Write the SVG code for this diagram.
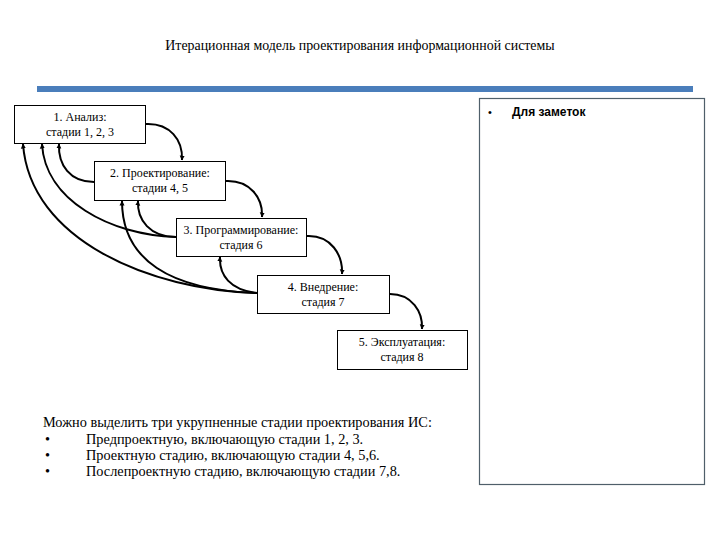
<svg xmlns="http://www.w3.org/2000/svg" width="720" height="540" viewBox="0 0 720 540">
<defs>
<marker id="ah" viewBox="0 0 10 10" refX="9" refY="5" markerWidth="5" markerHeight="6" orient="auto" markerUnits="userSpaceOnUse">
<path d="M0,0 L10,5 L0,10 z" fill="#000"/>
</marker>
<style>
.box{fill:#fff;stroke:#000;stroke-width:1}
.t{font-size:12px;fill:#000;text-anchor:middle}
.c{fill:none;stroke:#000;stroke-width:2;marker-end:url(#ah)}
.b{font-size:14.3px;fill:#000}
</style>
</defs>
<rect width="720" height="540" fill="#fff"/>
<g font-family="Liberation Serif, Times New Roman, serif">
<text x="360" y="50" text-anchor="middle" font-size="13.9">Итерационная модель проектирования информационной системы</text>
</g>
<rect x="37" y="86" width="656" height="6" fill="#4a7ebb"/>
<g id="notes">
<rect x="479.5" y="98.5" width="225" height="386" fill="#fff" stroke="#4f5f6a" stroke-width="1.2"/>
<text x="488" y="116" font-family="Liberation Sans, Arial, sans-serif" font-size="11">•</text>
<text x="512" y="116" font-family="Liberation Sans, Arial, sans-serif" font-size="12" font-weight="bold">Для заметок</text>
</g>
<g id="connectors">
<path class="c" d="M146,124 C170,123 183,140 182,160"/>
<path class="c" d="M226,181 C250,180 263,198 262,217"/>
<path class="c" d="M307,236 C331,235 343,255 342,274"/>
<path class="c" d="M390,294 C412,294 423,312 422,329"/>
<path class="c" d="M94,182 C70,182 58,165 59,144"/>
<path class="c" d="M176,237 C150,237 137,220 138,201"/>
<path class="c" d="M176,237 C110,235 45,200 42,144"/>
<path class="c" d="M257,293 C230,290 219,275 220,257"/>
<path class="c" d="M257,293 C170,290 122,260 122,201"/>
<path class="c" d="M257,293 C150,290 30,240 23,144"/>
</g>
<g font-family="Liberation Serif, Times New Roman, serif">
<g id="n1"><rect class="box" x="14.5" y="105.5" width="131" height="38"/><text class="t" x="80" y="121">1. Анализ:</text><text class="t" x="80" y="136">стадии 1, 2, 3</text></g>
<g id="n2"><rect class="box" x="94.5" y="161.5" width="131" height="39"/><text class="t" x="160" y="177">2. Проектирование:</text><text class="t" x="160" y="192">стадии 4, 5</text></g>
<g id="n3"><rect class="box" x="176.5" y="218.5" width="130" height="38"/><text class="t" x="241" y="234">3. Программирование:</text><text class="t" x="241" y="249">стадия 6</text></g>
<g id="n4"><rect class="box" x="257.5" y="275.5" width="132" height="38"/><text class="t" x="323" y="291">4. Внедрение:</text><text class="t" x="323" y="306">стадия 7</text></g>
<g id="n5"><rect class="box" x="337.5" y="330.5" width="130" height="39"/><text class="t" x="402" y="346">5. Эксплуатация:</text><text class="t" x="402" y="361">стадия 8</text></g>
<g id="summary">
<text class="b" x="43" y="427">Можно выделить три укрупненные стадии проектирования ИС:</text>
<text class="b" x="45" y="444">•</text><text class="b" x="86" y="444">Предпроектную, включающую стадии 1, 2, 3.</text>
<text class="b" x="45" y="460">•</text><text class="b" x="86" y="460">Проектную стадию, включающую стадии 4, 5,6.</text>
<text class="b" x="45" y="476">•</text><text class="b" x="86" y="476">Послепроектную стадию, включающую стадии 7,8.</text>
</g>
</g>
</svg>
